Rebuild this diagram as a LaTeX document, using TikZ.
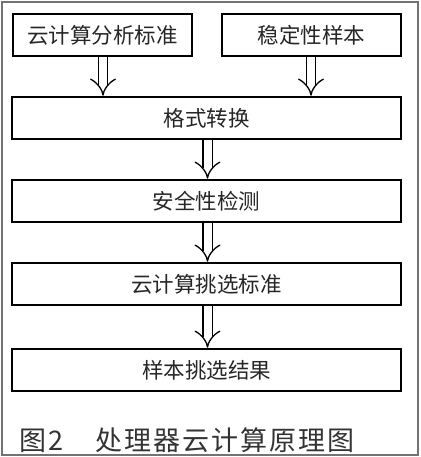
\documentclass[tikz,border=0pt]{standalone}
\usepackage{fontspec}
\newfontfamily\cjk{Noto Sans CJK SC}[Scale=1]
\usetikzlibrary{arrows.meta}
\newcommand{\gp}{\hspace{2pt}}
\tikzset{
  box/.style={draw=black, line width=1.6pt, minimum height=42pt, inner sep=0pt, font=\cjk\fontsize{21.5}{21.5}\selectfont, text=black!85},
  darr/.style={double, double distance=8pt, line width=1.3pt, -{Implies[length=6pt]}, shorten >=0.5pt}
}
\begin{document}
\begin{tikzpicture}[x=1pt,y=-1pt]
\useasboundingbox (0,0) rectangle (420,457);
\draw[black!55, line width=1.5pt] (2,2) rectangle (418,455);
\node[box, minimum width=179pt] (a) at (102.5,35) {云计算分析标准};
\node[box, minimum width=179pt] (b) at (311.5,35) {稳定性样本};
\node[box, minimum width=389pt] (c) at (206.5,118) {格式转换};
\node[box, minimum width=389pt] (d) at (206.5,201) {安全性检测};
\node[box, minimum width=389pt] (e) at (206.5,284) {云计算挑选标准};
\node[box, minimum width=389pt] (f) at (206.5,370) {样本挑选结果};
\draw[darr] (a.south -| 103,0) -- (c.north -| 103,0);
\draw[darr] (b.south -| 311,0) -- (c.north -| 311,0);
\draw[darr] (c.south -| 207.5,0) -- (d.north -| 207.5,0);
\draw[darr] (d.south -| 207.5,0) -- (e.north -| 207.5,0);
\draw[darr] (e.south -| 207.5,0) -- (f.north -| 207.5,0);
\node[font=\cjk\fontsize{27}{27}\selectfont, text=black!80, anchor=west, inner sep=0pt] (cap) at (19,440) {图\gp 2\hspace{32pt}处\gp 理\gp 器\gp 云\gp 计\gp 算\gp 原\gp 理\gp 图};
\end{tikzpicture}
\end{document}
